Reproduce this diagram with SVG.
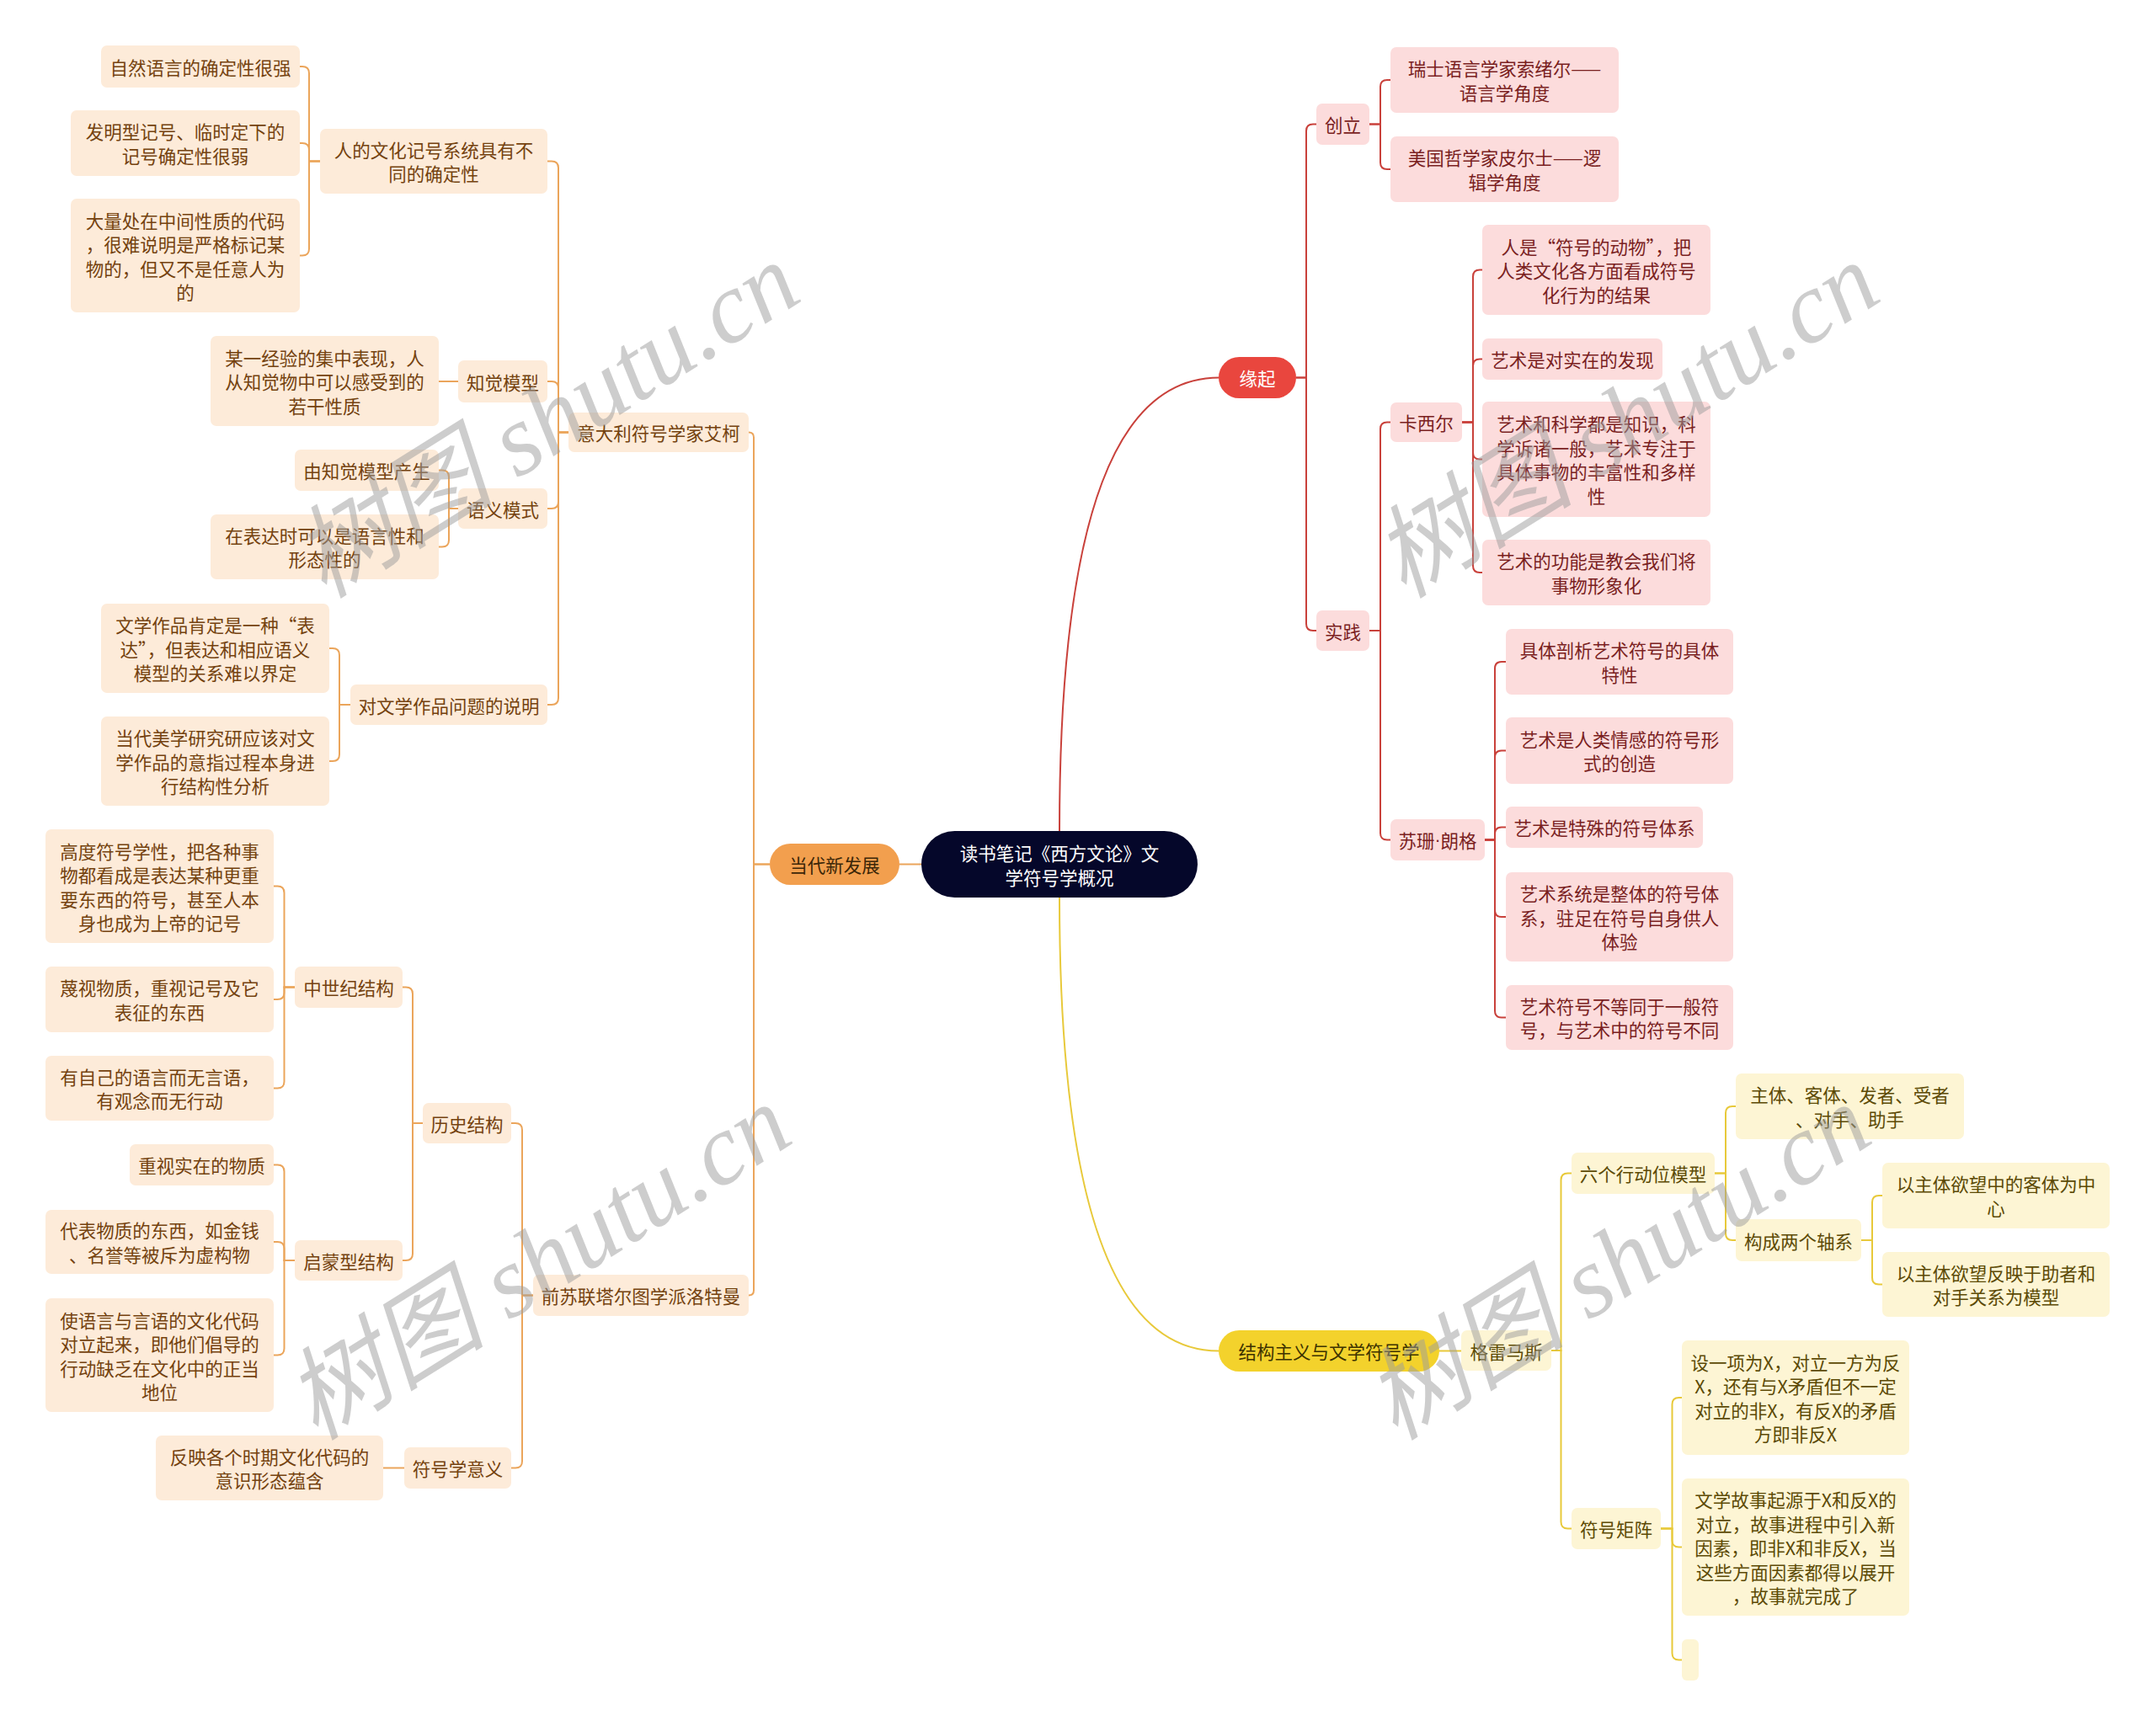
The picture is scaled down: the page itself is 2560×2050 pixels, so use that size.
<svg xmlns="http://www.w3.org/2000/svg" width="2560" height="2050" viewBox="0 0 2560 2050">
<style>
text{font-family:"Noto Sans CJK SC","Noto Sans",sans-serif;font-size:21.5px;text-anchor:middle;dominant-baseline:central}
.bl{fill:#fdebd9}.br{fill:#fcdcdc}.by{fill:#fdf5d4}
.tl{fill:#74420f}.tr{fill:#7a1f1f}.ty{fill:#5c4a05}
.cl{fill:none;stroke:#eba55b;stroke-width:2}
.cr{fill:none;stroke:#c9413b;stroke-width:2}
.cy{fill:none;stroke:#e8c93a;stroke-width:2}
.dot{font-family:"Liberation Sans",sans-serif}
.wm{font-family:"Liberation Serif","Noto Sans CJK SC",serif;font-style:italic;font-size:120px;fill:#9c9c9c;fill-opacity:0.5;text-anchor:start;dominant-baseline:alphabetic}
</style>
<rect x="0" y="0" width="2560" height="2050" fill="#ffffff"/>
<g id="connectors">
<path class="cr" d="M1258 988 C1258 600 1330 448.5 1447.5 448.5"/>
<path class="cy" d="M1258 1066 C1258 1450 1330 1604.5 1447 1604.5"/>
<path class="cl" d="M1094 1026.5 H1068"/>
<path class="cl" d="M914 1026.5 H895 V519.5 Q895 513.5 889 513.5"/>
<path class="cl" d="M914 1026.5 H895 V1532.5 Q895 1538.5 889 1538.5"/>
<path class="cl" d="M675 513.5 H663 V199.5 Q663 191.5 655 191.5 H650"/>
<path class="cl" d="M675 513.5 H663 V461 Q663 453 655 453 H650"/>
<path class="cl" d="M675 513.5 H663 V596 Q663 604 655 604 H650"/>
<path class="cl" d="M675 513.5 H663 V829 Q663 837 655 837 H650"/>
<path class="cl" d="M380 191.5 H367 V87 Q367 79 359 79 H356"/>
<path class="cl" d="M380 191.5 H367 V178 Q367 170 359 170 H356"/>
<path class="cl" d="M380 191.5 H367 V295.5 Q367 303.5 359 303.5 H356"/>
<path class="cl" d="M544 453 H521"/>
<path class="cl" d="M544 604 H533 V566.5 Q533 558.5 525 558.5 H521"/>
<path class="cl" d="M544 604 H533 V641.5 Q533 649.5 525 649.5 H521"/>
<path class="cl" d="M416 837 H403 V778 Q403 770 395 770 H391"/>
<path class="cl" d="M416 837 H403 V896 Q403 904 395 904 H391"/>
<path class="cl" d="M633 1538.5 H620 V1342 Q620 1334 612 1334 H607"/>
<path class="cl" d="M633 1538.5 H620 V1735.5 Q620 1743.5 612 1743.5 H607"/>
<path class="cl" d="M502 1334 H490 V1180.5 Q490 1172.5 482 1172.5 H478"/>
<path class="cl" d="M502 1334 H490 V1489 Q490 1497 482 1497 H478"/>
<path class="cl" d="M350 1172.5 H337.5 V1060.5 Q337.5 1052.5 329.5 1052.5 H325"/>
<path class="cl" d="M350 1172.5 H337.5 V1179 Q337.5 1187 329.5 1187 H325"/>
<path class="cl" d="M350 1172.5 H337.5 V1284.5 Q337.5 1292.5 329.5 1292.5 H325"/>
<path class="cl" d="M350 1497 H337.5 V1391.5 Q337.5 1383.5 329.5 1383.5 H325"/>
<path class="cl" d="M350 1497 H337.5 V1483 Q337.5 1475 329.5 1475 H325"/>
<path class="cl" d="M350 1497 H337.5 V1601.5 Q337.5 1609.5 329.5 1609.5 H325"/>
<path class="cl" d="M480 1743.5 H455"/>
<path class="cr" d="M1539 448.5 H1551 V155.5 Q1551 147.5 1559 147.5 H1563"/>
<path class="cr" d="M1539 448.5 H1551 V741 Q1551 749 1559 749 H1563"/>
<path class="cr" d="M1626 147.5 H1639 V103 Q1639 95 1647 95 H1651"/>
<path class="cr" d="M1626 147.5 H1639 V193 Q1639 201 1647 201 H1651"/>
<path class="cr" d="M1626 749 H1639 V509.5 Q1639 501.5 1647 501.5 H1651"/>
<path class="cr" d="M1626 749 H1639 V989.5 Q1639 997.5 1647 997.5 H1651"/>
<path class="cr" d="M1736 501.5 H1749 V328.5 Q1749 320.5 1757 320.5 H1760"/>
<path class="cr" d="M1736 501.5 H1749 V434.5 Q1749 426.5 1757 426.5 H1760"/>
<path class="cr" d="M1736 501.5 H1749 V537.5 Q1749 545.5 1757 545.5 H1760"/>
<path class="cr" d="M1736 501.5 H1749 V672 Q1749 680 1757 680 H1760"/>
<path class="cr" d="M1763 997.5 H1775 V794 Q1775 786 1783 786 H1788"/>
<path class="cr" d="M1763 997.5 H1775 V899.5 Q1775 891.5 1783 891.5 H1788"/>
<path class="cr" d="M1763 997.5 H1775 V990.5 Q1775 982.5 1783 982.5 H1788"/>
<path class="cr" d="M1763 997.5 H1775 V1081 Q1775 1089 1783 1089 H1788"/>
<path class="cr" d="M1763 997.5 H1775 V1200.5 Q1775 1208.5 1783 1208.5 H1788"/>
<path class="cy" d="M1709 1604.5 H1735"/>
<path class="cy" d="M1842 1604 H1853.5 V1401.5 Q1853.5 1393.5 1861.5 1393.5 H1866"/>
<path class="cy" d="M1842 1604 H1853.5 V1807.5 Q1853.5 1815.5 1861.5 1815.5 H1866"/>
<path class="cy" d="M2036 1393.5 H2049 V1322 Q2049 1314 2057 1314 H2061"/>
<path class="cy" d="M2036 1393.5 H2049 V1465 Q2049 1473 2057 1473 H2061"/>
<path class="cy" d="M2210 1473 H2223 V1428 Q2223 1420 2231 1420 H2235"/>
<path class="cy" d="M2210 1473 H2223 V1517.5 Q2223 1525.5 2231 1525.5 H2235"/>
<path class="cy" d="M1972 1815.5 H1985.5 V1668 Q1985.5 1660 1993.5 1660 H1997"/>
<path class="cy" d="M1972 1815.5 H1985.5 V1829.5 Q1985.5 1837.5 1993.5 1837.5 H1997"/>
<path class="cy" d="M1972 1815.5 H1985.5 V1963.5 Q1985.5 1971.5 1993.5 1971.5 H1997"/>
</g>

<g id="n_root"><rect x="1094" y="987" width="328" height="79" rx="39.5" fill="#05072a"/><text x="1258" y="1012.5" fill="#ffffff">读书笔记《西方文论》文</text><text x="1258" y="1041.5" fill="#ffffff">学符号学概况</text></g>
<g id="n_yuanqi"><rect x="1447" y="424" width="92" height="49" rx="24.5" fill="#e9463e"/><text x="1493" y="448.5" fill="#ffffff">缘起</text></g>
<g id="n_dangdai"><rect x="914" y="1002" width="154" height="49" rx="24.5" fill="#f29f4e"/><text x="991" y="1026.5" fill="#3b2608">当代新发展</text></g>
<g id="n_jiegou"><rect x="1447" y="1580" width="262" height="49" rx="24.5" fill="#f3d22c"/><text x="1578" y="1604.5" fill="#3d3200">结构主义与文学符号学</text></g>

<g id="n_ziran"><rect class="bl" x="120" y="54" width="236" height="50" rx="7"/><text class="tl" x="238" y="79">自然语言的确定性很强</text></g>
<g id="n_faming"><rect class="bl" x="84" y="131" width="272" height="78" rx="7"/><text class="tl" x="220" y="155.75">发明型记号、临时定下的</text><text class="tl" x="220" y="184.25">记号确定性很弱</text></g>
<g id="n_daliang"><rect class="bl" x="84" y="236" width="272" height="135" rx="7"/><text class="tl" x="220" y="261">大量处在中间性质的代码</text><text class="tl" x="220" y="289.5">，很难说明是严格标记某</text><text class="tl" x="220" y="318">物的，但又不是任意人为</text><text class="tl" x="220" y="346.5">的</text></g>
<g id="n_renwenhua"><rect class="bl" x="380" y="153" width="270" height="77" rx="7"/><text class="tl" x="515" y="177.25">人的文化记号系统具有不</text><text class="tl" x="515" y="205.75">同的确定性</text></g>
<g id="n_mouyi"><rect class="bl" x="250" y="399" width="271" height="107" rx="7"/><text class="tl" x="385.5" y="424">某一经验的集中表现，人</text><text class="tl" x="385.5" y="452.5">从知觉物中可以感受到的</text><text class="tl" x="385.5" y="481">若干性质</text></g>
<g id="n_zhijue"><rect class="bl" x="544" y="428" width="106" height="50" rx="7"/><text class="tl" x="597" y="453">知觉模型</text></g>
<g id="n_aike"><rect class="bl" x="675" y="490" width="214" height="47" rx="7"/><text class="tl" x="782" y="513.5">意大利符号学家艾柯</text></g>
<g id="n_youzhijue"><rect class="bl" x="350" y="534" width="171" height="49" rx="7"/><text class="tl" x="435.5" y="558.5">由知觉模型产生</text></g>
<g id="n_zaibiaoda"><rect class="bl" x="250" y="611" width="271" height="77" rx="7"/><text class="tl" x="385.5" y="635.25">在表达时可以是语言性和</text><text class="tl" x="385.5" y="663.75">形态性的</text></g>
<g id="n_yuyi"><rect class="bl" x="544" y="580" width="106" height="48" rx="7"/><text class="tl" x="597" y="604">语义模式</text></g>
<g id="n_wenxue"><rect class="bl" x="120" y="717" width="271" height="106" rx="7"/><text class="tl" x="255.5" y="741.5">文学作品肯定是一种“表</text><text class="tl" x="255.5" y="770">达”，但表达和相应语义</text><text class="tl" x="255.5" y="798.5">模型的关系难以界定</text></g>
<g id="n_dangdaimei"><rect class="bl" x="120" y="851" width="271" height="106" rx="7"/><text class="tl" x="255.5" y="875.5">当代美学研究研应该对文</text><text class="tl" x="255.5" y="904">学作品的意指过程本身进</text><text class="tl" x="255.5" y="932.5">行结构性分析</text></g>
<g id="n_duiwenxue"><rect class="bl" x="416" y="813" width="234" height="48" rx="7"/><text class="tl" x="533" y="837">对文学作品问题的说明</text></g>
<g id="n_gaodu"><rect class="bl" x="54" y="985" width="271" height="135" rx="7"/><text class="tl" x="189.5" y="1010">高度符号学性，把各种事</text><text class="tl" x="189.5" y="1038.5">物都看成是表达某种更重</text><text class="tl" x="189.5" y="1067">要东西的符号，甚至人本</text><text class="tl" x="189.5" y="1095.5">身也成为上帝的记号</text></g>
<g id="n_mieshi"><rect class="bl" x="54" y="1148" width="271" height="78" rx="7"/><text class="tl" x="189.5" y="1172.75">蔑视物质，重视记号及它</text><text class="tl" x="189.5" y="1201.25">表征的东西</text></g>
<g id="n_youziji"><rect class="bl" x="54" y="1254" width="271" height="77" rx="7"/><text class="tl" x="189.5" y="1278.25">有自己的语言而无言语，</text><text class="tl" x="189.5" y="1306.75">有观念而无行动</text></g>
<g id="n_zhongshiji"><rect class="bl" x="350" y="1148" width="128" height="49" rx="7"/><text class="tl" x="414" y="1172.5">中世纪结构</text></g>
<g id="n_lishi"><rect class="bl" x="502" y="1310" width="105" height="48" rx="7"/><text class="tl" x="554.5" y="1334">历史结构</text></g>
<g id="n_zhongshi"><rect class="bl" x="154" y="1359" width="171" height="49" rx="7"/><text class="tl" x="239.5" y="1383.5">重视实在的物质</text></g>
<g id="n_daibiao"><rect class="bl" x="54" y="1437" width="271" height="76" rx="7"/><text class="tl" x="189.5" y="1460.75">代表物质的东西，如金钱</text><text class="tl" x="189.5" y="1489.25">、名誉等被斥为虚构物</text></g>
<g id="n_shiyuyan"><rect class="bl" x="54" y="1542" width="271" height="135" rx="7"/><text class="tl" x="189.5" y="1567">使语言与言语的文化代码</text><text class="tl" x="189.5" y="1595.5">对立起来，即他们倡导的</text><text class="tl" x="189.5" y="1624">行动缺乏在文化中的正当</text><text class="tl" x="189.5" y="1652.5">地位</text></g>
<g id="n_qimeng"><rect class="bl" x="350" y="1473" width="128" height="48" rx="7"/><text class="tl" x="414" y="1497">启蒙型结构</text></g>
<g id="n_fanying"><rect class="bl" x="185" y="1705" width="270" height="77" rx="7"/><text class="tl" x="320" y="1729.25">反映各个时期文化代码的</text><text class="tl" x="320" y="1757.75">意识形态蕴含</text></g>
<g id="n_fuhaoyiyi"><rect class="bl" x="480" y="1719" width="127" height="49" rx="7"/><text class="tl" x="543.5" y="1743.5">符号学意义</text></g>
<g id="n_qiansulian"><rect class="bl" x="633" y="1514" width="256" height="49" rx="7"/><text class="tl" x="761" y="1538.5">前苏联塔尔图学派洛特曼</text></g>

<g id="n_chuangli"><rect class="br" x="1563" y="123" width="63" height="49" rx="7"/><text class="tr" x="1594.5" y="147.5">创立</text></g>
<g id="n_suoxuer"><rect class="br" x="1651" y="56" width="271" height="78" rx="7"/><text class="tr" x="1786.5" y="80.75">瑞士语言学家索绪尔——</text><text class="tr" x="1786.5" y="109.25">语言学角度</text></g>
<g id="n_piershi"><rect class="br" x="1651" y="162" width="271" height="78" rx="7"/><text class="tr" x="1786.5" y="186.75">美国哲学家皮尔士——逻</text><text class="tr" x="1786.5" y="215.25">辑学角度</text></g>
<g id="n_shijian"><rect class="br" x="1563" y="725" width="63" height="48" rx="7"/><text class="tr" x="1594.5" y="749">实践</text></g>
<g id="n_kaxier"><rect class="br" x="1651" y="478" width="85" height="47" rx="7"/><text class="tr" x="1693.5" y="501.5">卡西尔</text></g>
<g id="n_renshi"><rect class="br" x="1760" y="267" width="271" height="107" rx="7"/><text class="tr" x="1895.5" y="292">人是“符号的动物”，把</text><text class="tr" x="1895.5" y="320.5">人类文化各方面看成符号</text><text class="tr" x="1895.5" y="349">化行为的结果</text></g>
<g id="n_yishushi"><rect class="br" x="1760" y="402" width="214" height="49" rx="7"/><text class="tr" x="1867" y="426.5">艺术是对实在的发现</text></g>
<g id="n_yishuhe"><rect class="br" x="1760" y="477" width="271" height="137" rx="7"/><text class="tr" x="1895.5" y="502.75">艺术和科学都是知识，科</text><text class="tr" x="1895.5" y="531.25">学诉诸一般，艺术专注于</text><text class="tr" x="1895.5" y="559.75">具体事物的丰富性和多样</text><text class="tr" x="1895.5" y="588.25">性</text></g>
<g id="n_gongneng"><rect class="br" x="1760" y="641" width="271" height="78" rx="7"/><text class="tr" x="1895.5" y="665.75">艺术的功能是教会我们将</text><text class="tr" x="1895.5" y="694.25">事物形象化</text></g>
<g id="n_susan"><rect class="br" x="1651" y="973" width="112" height="49" rx="7"/><text class="tr" x="1707" y="997.5">苏珊<tspan class="dot">·</tspan>朗格</text></g>
<g id="n_juti"><rect class="br" x="1788" y="747" width="270" height="78" rx="7"/><text class="tr" x="1923" y="771.75">具体剖析艺术符号的具体</text><text class="tr" x="1923" y="800.25">特性</text></g>
<g id="n_qinggan"><rect class="br" x="1788" y="852" width="270" height="79" rx="7"/><text class="tr" x="1923" y="877.25">艺术是人类情感的符号形</text><text class="tr" x="1923" y="905.75">式的创造</text></g>
<g id="n_teshu"><rect class="br" x="1788" y="958" width="234" height="49" rx="7"/><text class="tr" x="1905" y="982.5">艺术是特殊的符号体系</text></g>
<g id="n_xitong"><rect class="br" x="1788" y="1036" width="270" height="106" rx="7"/><text class="tr" x="1923" y="1060.5">艺术系统是整体的符号体</text><text class="tr" x="1923" y="1089">系，驻足在符号自身供人</text><text class="tr" x="1923" y="1117.5">体验</text></g>
<g id="n_budeng"><rect class="br" x="1788" y="1170" width="270" height="77" rx="7"/><text class="tr" x="1923" y="1194.25">艺术符号不等同于一般符</text><text class="tr" x="1923" y="1222.75">号，与艺术中的符号不同</text></g>

<g id="n_geleimasi"><rect class="by" x="1735" y="1580" width="107" height="48" rx="7"/><text class="ty" x="1788.5" y="1604">格雷马斯</text></g>
<g id="n_liuge"><rect class="by" x="1866" y="1369" width="170" height="49" rx="7"/><text class="ty" x="1951" y="1393.5">六个行动位模型</text></g>
<g id="n_zhuti"><rect class="by" x="2061" y="1275" width="271" height="78" rx="7"/><text class="ty" x="2196.5" y="1299.75">主体、客体、发者、受者</text><text class="ty" x="2196.5" y="1328.25">、对手、助手</text></g>
<g id="n_goucheng"><rect class="by" x="2061" y="1448" width="149" height="50" rx="7"/><text class="ty" x="2135.5" y="1473">构成两个轴系</text></g>
<g id="n_yizhuti1"><rect class="by" x="2235" y="1381" width="270" height="78" rx="7"/><text class="ty" x="2370" y="1405.75">以主体欲望中的客体为中</text><text class="ty" x="2370" y="1434.25">心</text></g>
<g id="n_yizhuti2"><rect class="by" x="2235" y="1487" width="270" height="77" rx="7"/><text class="ty" x="2370" y="1511.25">以主体欲望反映于助者和</text><text class="ty" x="2370" y="1539.75">对手关系为模型</text></g>
<g id="n_fuhaojuzhen"><rect class="by" x="1866" y="1791" width="106" height="49" rx="7"/><text class="ty" x="1919" y="1815.5">符号矩阵</text></g>
<g id="n_sheyixiang"><rect class="by" x="1997" y="1592" width="270" height="136" rx="7"/><text class="ty" x="2132" y="1617.25">设一项为X，对立一方为反</text><text class="ty" x="2132" y="1645.75">X，还有与X矛盾但不一定</text><text class="ty" x="2132" y="1674.25">对立的非X，有反X的矛盾</text><text class="ty" x="2132" y="1702.75">方即非反X</text></g>
<g id="n_wenxuegushi"><rect class="by" x="1997" y="1756" width="270" height="163" rx="7"/><text class="ty" x="2132" y="1780.5">文学故事起源于X和反X的</text><text class="ty" x="2132" y="1809">对立，故事进程中引入新</text><text class="ty" x="2132" y="1837.5">因素，即非X和非反X，当</text><text class="ty" x="2132" y="1866">这些方面因素都得以展开</text><text class="ty" x="2132" y="1894.5">，故事就完成了</text></g>
<g id="n_empty"><rect class="by" x="1997" y="1947" width="20" height="49" rx="6"/></g>

<g id="watermark">
<text class="wm" transform="translate(385 712) rotate(-32)">树图 shutu.cn</text>
<text class="wm" transform="translate(375 1712) rotate(-32)">树图 shutu.cn</text>
<text class="wm" transform="translate(1667 712) rotate(-32)">树图 shutu.cn</text>
<text class="wm" transform="translate(1657 1712) rotate(-32)">树图 shutu.cn</text>
</g>
</svg>
